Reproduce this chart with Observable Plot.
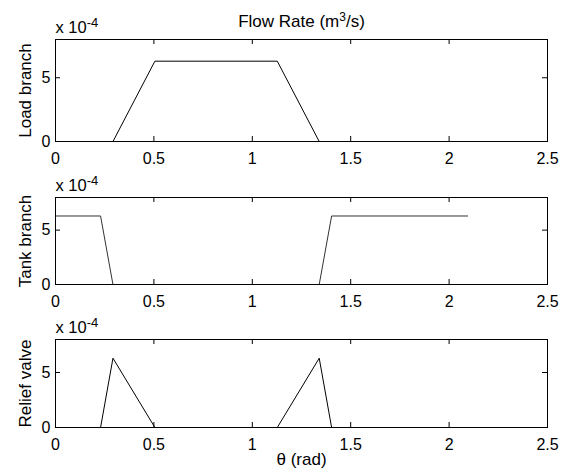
<!DOCTYPE html>
<html><head><meta charset="utf-8">
<script src="https://cdn.jsdelivr.net/npm/d3@7"></script>
<script src="https://cdn.jsdelivr.net/npm/@observablehq/plot@0.6"></script>
<style>
body{margin:0;background:#fff;}
#chart{width:576px;height:473px;background:#fff;}
#chart svg{display:block;}
</style></head><body><div id="chart"></div>
<script>
// data (flow rates in m^3/s)
const theta = [0, 0.229, 0.292, 0.505, 1.127, 1.340, 1.403, 2.094];
const loadBranch = [0, 0, 0, 6.3e-4, 6.3e-4, 0, 0, 0];
const tankBranch = [6.3e-4, 6.3e-4, 0, 0, 0, 0, 6.3e-4, 6.3e-4];
const reliefValve = [0, 0, 6.3e-4, 0, 0, 6.3e-4, 0, 0];
const xTicks = [0, 0.5, 1, 1.5, 2, 2.5];
const yTicks = [0, 5e-4];
const panelLabels = ["Load branch", "Tank branch", "Relief valve"];
const titleMain = "Flow Rate (m";
const titleSup = "3";
const titleEnd = "/s)";
const xLabel = "θ (rad)";
const expBase = "x 10";
const expSup = "-4";

const W = 576, ML = 55, MR = 29;
const FW = W - ML - MR;
const font = "'Liberation Sans', Arial, Helvetica, sans-serif";

function panel(values, label, cfg) {
  const fh = cfg.height - cfg.marginTop - cfg.marginBottom;
  const idx = d3.range(theta.length);
  const marks = [
    Plot.line(idx, {x: i => theta[i], y: i => values[i], stroke: cfg.stroke, strokeWidth: 1}),
    Plot.frame({stroke: "black"}),
    Plot.tickX(xTicks, {x: d => d, insetTop: fh - 5, stroke: "black"}),
    Plot.tickX(xTicks, {x: d => d, insetBottom: fh - 5, stroke: "black"}),
    Plot.tickY(yTicks, {y: d => d, insetRight: FW - 5, stroke: "black"}),
    Plot.tickY(yTicks, {y: d => d, insetLeft: FW - 5, stroke: "black"}),
    Plot.axisX(xTicks, {tickSize: 0, tickPadding: 11.5, tickFormat: d => String(d), fontSize: 16, label: null}),
    Plot.axisY(yTicks, {tickSize: 0, tickPadding: 5, tickFormat: d => String(Math.round(d * 1e4)), fontSize: 16, label: null}),
    Plot.text([label], {frameAnchor: "left", rotate: -90, textAnchor: "middle", lineAnchor: "bottom", dx: -24.5, fontSize: 17}),
    Plot.text([expBase], {frameAnchor: "top-left", textAnchor: "start", lineAnchor: "bottom", dy: -6.5, fontSize: 16.5})
  ];
  if (cfg.title) marks.push(Plot.text([titleMain], {frameAnchor: "top", textAnchor: "middle", lineAnchor: "bottom", dy: -12.5, fontSize: 17}));
  if (cfg.xlabel) marks.push(Plot.text([xLabel], {frameAnchor: "bottom", textAnchor: "middle", lineAnchor: "bottom", dy: 37, fontSize: 17}));
  const svg = Plot.plot({
    width: W, height: cfg.height,
    marginLeft: ML, marginRight: MR, marginTop: cfg.marginTop, marginBottom: cfg.marginBottom,
    style: {fontFamily: font, fontSize: "16px", color: "black", background: "white", overflow: "visible"},
    x: {domain: [0, 2.5], label: null},
    y: {domain: [0, 8e-4], label: null},
    marks
  });
  d3.select(svg).selectAll("text").each(function() {
    const t = d3.select(this);
    const s = this.textContent;
    if (s === expBase) {
      t.append("tspan").attr("dy", -6).attr("font-size", 13).text(expSup);
    } else if (cfg.title && s === titleMain) {
      t.append("tspan").attr("dy", -6).attr("font-size", 12).text(titleSup);
      t.append("tspan").attr("dy", 6).text(titleEnd);
    }
  });
  return svg;
}

const chart = document.getElementById("chart");
chart.append(panel(loadBranch, panelLabels[0], {height: 170, marginTop: 39, marginBottom: 29, stroke: "black", title: true}));
chart.append(panel(tankBranch, panelLabels[1], {height: 140, marginTop: 27, marginBottom: 26, stroke: "#333"}));
chart.append(panel(reliefValve, panelLabels[2], {height: 163, marginTop: 29, marginBottom: 46, stroke: "black", xlabel: true}));
</script></body></html>
